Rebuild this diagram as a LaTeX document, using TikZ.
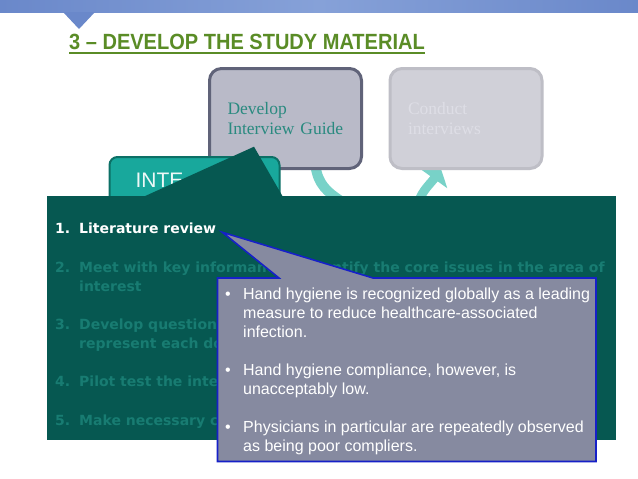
\documentclass[tikz,border=0pt]{standalone}
\usepackage{fontspec}
\usepackage{graphicx}
\usetikzlibrary{arrows.meta}
\newfontfamily\arialfont{Liberation Sans}
\newfontfamily\timesfont{Liberation Serif}
\newfontfamily\verdfont{DejaVu Sans}
\definecolor{bannerblue}{RGB}{106,136,202}
\definecolor{bannerlight}{RGB}{134,161,216}
\definecolor{titlegreen}{RGB}{90,140,38}
\definecolor{panelteal}{RGB}{6,88,81}
\definecolor{fadedteal}{RGB}{24,124,114}
\definecolor{intefill}{RGB}{24,168,156}
\definecolor{inteline}{RGB}{12,112,102}
\definecolor{guidefill}{RGB}{185,186,200}
\definecolor{guideline}{RGB}{96,99,121}
\definecolor{guidetext}{RGB}{42,138,128}
\definecolor{conductfill}{RGB}{208,208,216}
\definecolor{conductline}{RGB}{190,190,198}
\definecolor{conducttext}{RGB}{222,222,230}
\definecolor{ribbonteal}{RGB}{120,210,200}
\definecolor{calloutgray}{RGB}{134,138,160}
\definecolor{calloutblue}{RGB}{22,32,200}
\begin{document}
\begin{tikzpicture}[x=1pt,y=-1pt,
    guidebox/.style={rectangle,rounded corners=12pt,line width=3pt,minimum height=100pt,
      text width=116pt,inner xsep=18pt,align=left,font=\timesfont\fontsize{17.5}{20}\selectfont},
    ribbon/.style={line width=10pt,draw=ribbonteal},
    listtxt/.style={anchor=base west,inner sep=0pt,font=\verdfont\bfseries\fontsize{14}{19}\selectfont},
    notetxt/.style={anchor=base west,inner sep=0pt,text=white,font=\arialfont\fontsize{16}{19}\selectfont},
    callout/.style={fill=calloutgray,draw=calloutblue,line width=1.6pt,line join=miter}]
  \useasboundingbox (0,0) rectangle (638,479);
  \fill[white] (0,0) rectangle (638,479);
  \shade[left color=bannerblue,right color=bannerblue,middle color=bannerlight] (0,0) rectangle (638,12.5);
  \fill[bannerblue] (63,12) -- (95,12) -- (79,29) -- cycle;
  \node[anchor=base west,inner sep=0pt,text=titlegreen,font=\arialfont\bfseries\fontsize{22}{22}\selectfont]
    (title) at (69,49.3) {\scalebox{0.91}[1]{3 – DEVELOP THE STUDY MATERIAL}};
  \draw[titlegreen,line width=1.8pt] ([yshift=-3.4pt]title.base west) -- ([yshift=-3.4pt]title.base east);
  \coordinate (hid1) at (341,201);
  \coordinate (hid2) at (419,201);
  \node[guidebox] (develop) at (285.5,118.5) {};
  \node[guidebox] (conduct) at (466,118.5) {};
  \draw[ribbon] ([xshift=30pt,yshift=4pt]develop.south) .. controls (318,184) and (327,192) .. (hid1);
  \draw[ribbon,line width=9pt,-{Triangle[length=12pt,width=32pt]}] (hid2) .. controls (422,191) and (431,183) .. ([xshift=-25pt,yshift=1pt]conduct.south);
  \node[guidebox,fill=guidefill,draw=guideline,text=guidetext] at (develop) {Develop\\Interview Guide};
  \node[guidebox,fill=conductfill,draw=conductline,text=conducttext] at (conduct) {Conduct\\interviews};
  \node[rectangle,rounded corners=8pt,line width=2pt,fill=intefill,draw=inteline,text=white!92!intefill,
    minimum height=46pt,text width=118pt,inner xsep=26pt,align=left,font=\arialfont\fontsize{21}{21}\selectfont]
    (inte) at (194.5,180) {INTE};
  \fill[panelteal] (143,197) -- (254,146.7) -- (283,197) -- cycle;
  \fill[panelteal] (47,196) rectangle (616,440);
  \node[listtxt,text=white] (item1) at (55,233.3) {\makebox[24pt][l]{1.}Literature review};
  \foreach \n/\y/\a in {2/272.3/{Meet with key informants to identify the core issues in the area of},
      3/329.3/{Develop question},4/386.7/{Pilot test the inte},5/425/{Make necessary c}} {
    \node[listtxt,text=fadedteal] (item\n) at (55,\y) {\makebox[24pt][l]{\n.}\a};
  }
  \foreach \n/\a in {2/interest,3/{represent each do}} {
    \node[listtxt,text=fadedteal] (more\n) at ([yshift=-19pt,xshift=24pt]item\n.base west) {\a};
  }
  \coordinate (tip) at ([xshift=6pt,yshift=1pt]item1.base east);
  \filldraw[callout] (217.5,278) -- (279,278) -- (tip) -- (373,278) -- (596,278) -- (596,461.5) -- (217.5,461.5) -- cycle;
  \node[notetxt] (notes) at (225,299.3) {\begin{tabular}[t]{@{}p{18pt}@{}l@{}}
    \textbullet & Hand hygiene is recognized globally as a leading\\
    & measure to reduce healthcare-associated\\
    & infection.\\[19pt]
    \textbullet & Hand hygiene compliance, however, is\\
    & unacceptably low.\\[19pt]
    \textbullet & Physicians in particular are repeatedly observed\\
    & as being poor compliers.
  \end{tabular}};
\end{tikzpicture}
\end{document}
